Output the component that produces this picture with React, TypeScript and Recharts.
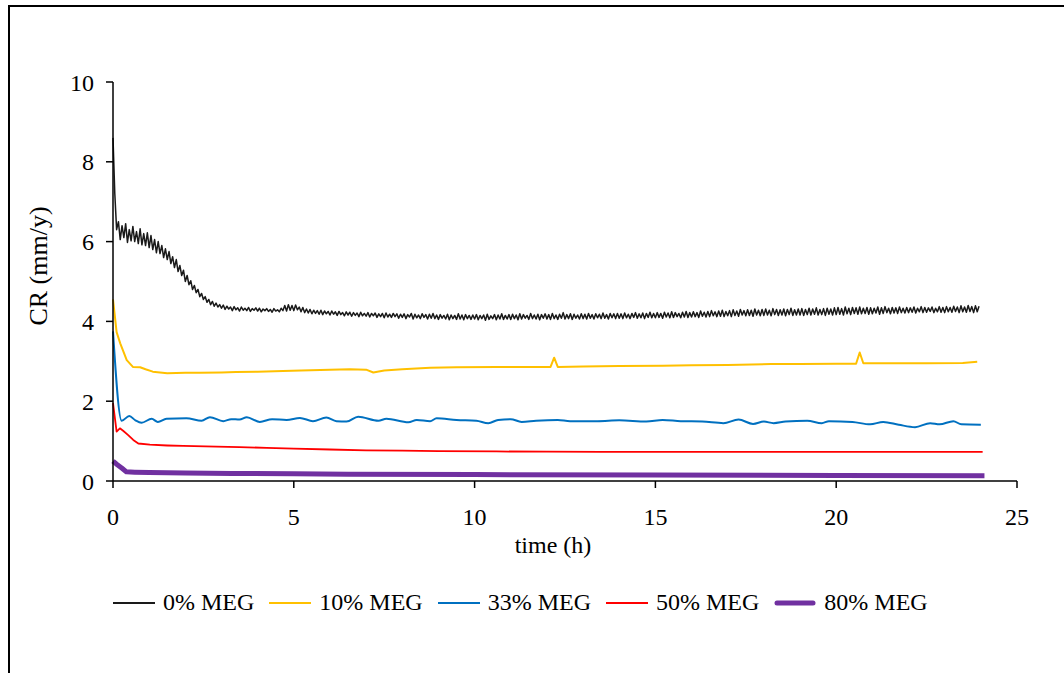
import { LineChart, Line, XAxis, YAxis, Legend, Label } from 'recharts';

const FONT = '"Liberation Serif", "Times New Roman", serif';

const xTicks = [0, 5, 10, 15, 20, 25];
const yTicks = [0, 2, 4, 6, 8, 10];

// 0% MEG, logged every 0.05 h from t = 0 (one row per hour)
const meg0Step = 0.05;
const meg0Cr = [
  8.6, 7.2, 6.3, 6.5, 6.05, 6.4, 6.1, 6.45, 5.98, 6.3, 6.02, 6.38, 6.0, 6.25, 5.95, 6.32, 5.92, 6.2, 5.9, 6.22,
  5.85, 6.15, 5.8, 6.05, 5.72, 6.0, 5.7, 5.9, 5.6, 5.82, 5.55, 5.75, 5.45, 5.62, 5.35, 5.55, 5.25, 5.4, 5.15, 5.28,
  5.0, 5.15, 4.92, 5.02, 4.8, 4.9, 4.72, 4.8, 4.62, 4.7, 4.55, 4.62, 4.48, 4.55, 4.42, 4.5, 4.38, 4.46, 4.36, 4.42,
  4.33, 4.41, 4.3, 4.38, 4.31, 4.36, 4.27, 4.37, 4.29, 4.34, 4.26, 4.36, 4.28, 4.33, 4.27, 4.35, 4.25, 4.32, 4.28, 4.34,
  4.26, 4.33, 4.24, 4.31, 4.27, 4.32, 4.25, 4.3, 4.23, 4.32, 4.26, 4.29, 4.24, 4.33, 4.27, 4.4, 4.26, 4.42, 4.28, 4.4,
  4.27, 4.41, 4.29, 4.36, 4.24, 4.35, 4.22, 4.31, 4.21, 4.3, 4.19, 4.28, 4.2, 4.27, 4.18, 4.28, 4.17, 4.26, 4.19, 4.25,
  4.16, 4.26, 4.18, 4.24, 4.15, 4.25, 4.17, 4.22, 4.14, 4.24, 4.16, 4.23, 4.13, 4.22, 4.15, 4.21, 4.12, 4.23, 4.14, 4.2,
  4.13, 4.22, 4.11, 4.2, 4.14, 4.21, 4.1, 4.19, 4.12, 4.2, 4.09, 4.21, 4.11, 4.18, 4.1, 4.2, 4.12, 4.19, 4.08, 4.18,
  4.1, 4.19, 4.07, 4.17, 4.11, 4.2, 4.06, 4.18, 4.09, 4.16, 4.07, 4.19, 4.1, 4.17, 4.06, 4.18, 4.08, 4.2, 4.07, 4.16,
  4.05, 4.17, 4.08, 4.15, 4.06, 4.18, 4.04, 4.16, 4.07, 4.15, 4.05, 4.19, 4.06, 4.16, 4.04, 4.17, 4.07, 4.15, 4.05, 4.16,
  4.06, 4.17, 4.04, 4.15, 4.07, 4.16, 4.03, 4.18, 4.05, 4.14, 4.07, 4.17, 4.04, 4.16, 4.06, 4.19, 4.05, 4.15, 4.06, 4.17,
  4.05, 4.18, 4.07, 4.16, 4.04, 4.19, 4.06, 4.17, 4.08, 4.15, 4.05, 4.2, 4.07, 4.16, 4.06, 4.18, 4.04, 4.17, 4.08, 4.19,
  4.06, 4.17, 4.05, 4.2, 4.07, 4.16, 4.05, 4.18, 4.08, 4.22, 4.06, 4.17, 4.07, 4.19, 4.05, 4.18, 4.08, 4.16, 4.06, 4.19,
  4.07, 4.18, 4.06, 4.2, 4.08, 4.17, 4.06, 4.19, 4.09, 4.18, 4.07, 4.21, 4.08, 4.17, 4.06, 4.2, 4.09, 4.19, 4.07, 4.2,
  4.08, 4.19, 4.07, 4.21, 4.09, 4.18, 4.07, 4.2, 4.1, 4.22, 4.08, 4.19, 4.09, 4.21, 4.07, 4.2, 4.1, 4.23, 4.09, 4.2,
  4.09, 4.22, 4.1, 4.2, 4.08, 4.23, 4.11, 4.21, 4.09, 4.24, 4.1, 4.22, 4.12, 4.2, 4.09, 4.23, 4.11, 4.25, 4.1, 4.22,
  4.11, 4.24, 4.12, 4.22, 4.1, 4.26, 4.13, 4.23, 4.11, 4.25, 4.12, 4.27, 4.14, 4.24, 4.12, 4.26, 4.13, 4.28, 4.12, 4.25,
  4.14, 4.27, 4.12, 4.29, 4.15, 4.26, 4.13, 4.3, 4.16, 4.27, 4.14, 4.29, 4.15, 4.28, 4.13, 4.31, 4.16, 4.28, 4.14, 4.3,
  4.15, 4.31, 4.16, 4.28, 4.14, 4.32, 4.17, 4.3, 4.15, 4.29, 4.16, 4.31, 4.14, 4.3, 4.17, 4.33, 4.15, 4.29, 4.16, 4.31,
  4.16, 4.32, 4.15, 4.3, 4.17, 4.33, 4.16, 4.31, 4.18, 4.34, 4.16, 4.3, 4.17, 4.32, 4.15, 4.33, 4.18, 4.31, 4.16, 4.34,
  4.17, 4.35, 4.18, 4.32, 4.16, 4.36, 4.19, 4.33, 4.17, 4.35, 4.2, 4.34, 4.18, 4.36, 4.19, 4.33, 4.2, 4.35, 4.18, 4.34,
  4.19, 4.33, 4.21, 4.36, 4.18, 4.34, 4.2, 4.37, 4.22, 4.33, 4.19, 4.35, 4.21, 4.34, 4.2, 4.36, 4.22, 4.33, 4.21, 4.35,
  4.22, 4.34, 4.23, 4.36, 4.21, 4.33, 4.24, 4.37, 4.22, 4.35, 4.23, 4.34, 4.25, 4.36, 4.22, 4.33, 4.24, 4.37, 4.23, 4.35,
  4.22, 4.37, 4.24, 4.35, 4.23, 4.38, 4.25, 4.36, 4.22, 4.39, 4.24, 4.36, 4.23, 4.4, 4.25, 4.37, 4.22, 4.39, 4.24, 4.38,
];

const meg10Time = [
  0, 0.1, 0.2, 0.38, 0.55, 0.75, 0.9, 1.1, 1.5, 2.0, 2.4, 3.0, 3.4, 4.0, 4.7, 5.2, 6.0, 6.55,
  7.0, 7.2, 7.5, 8.0, 8.77, 9.5, 10.6, 11.5, 12.1, 12.2, 12.3, 13.0, 14.0, 15.2, 16.0, 17.0,
  18.2, 19.0, 20.0, 20.55, 20.65, 20.75, 21.5, 22.5, 23.5, 23.9,
];
const meg10Cr = [
  4.55, 3.73, 3.45, 3.03, 2.86, 2.85, 2.8, 2.74, 2.7, 2.71, 2.71, 2.72, 2.73, 2.74, 2.76, 2.77, 2.79, 2.8,
  2.79, 2.72, 2.77, 2.8, 2.84, 2.85, 2.86, 2.86, 2.86, 3.09, 2.86, 2.87, 2.88, 2.89, 2.9, 2.91,
  2.93, 2.93, 2.94, 2.94, 3.22, 2.95, 2.95, 2.95, 2.96, 2.99,
];

const meg33Time = [
  0, 0.24, 0.45, 0.62, 0.79, 1.07, 1.24, 1.48, 2.03, 2.45, 2.68, 3.05, 3.27, 3.5, 3.7, 4.06,
  4.4, 4.8, 5.17, 5.53, 5.9, 6.18, 6.46, 6.78, 7.34, 7.56, 8.17, 8.4, 8.77, 8.95, 9.5, 10.05,
  10.38, 10.65, 11.0, 11.3, 11.7, 12.3, 12.64, 13.4, 14.0, 14.75, 15.2, 15.7, 16.3, 16.88,
  17.3, 17.7, 18.0, 18.27, 18.6, 19.2, 19.6, 19.8, 20.45, 20.94, 21.3, 21.73, 22.18, 22.6,
  22.86, 23.24, 23.46, 24.0,
];
const meg33Cr = [
  3.75, 1.51, 1.63, 1.52, 1.46, 1.56, 1.48, 1.56, 1.57, 1.51, 1.6, 1.5, 1.55, 1.54, 1.6, 1.48,
  1.55, 1.53, 1.58, 1.5, 1.59, 1.5, 1.49, 1.61, 1.51, 1.56, 1.47, 1.53, 1.5, 1.57, 1.53, 1.51,
  1.45, 1.53, 1.55, 1.48, 1.51, 1.53, 1.5, 1.5, 1.52, 1.49, 1.53, 1.5, 1.49, 1.45,
  1.54, 1.43, 1.49, 1.45, 1.49, 1.51, 1.45, 1.5, 1.48, 1.42, 1.48, 1.41, 1.35, 1.45,
  1.42, 1.5, 1.42, 1.41,
];

const meg50Time = [
  0, 0.1, 0.19, 0.28, 0.42, 0.56, 0.7, 1.02, 1.5, 1.94, 2.86, 3.5, 4.25, 5.0, 6.0, 7.0, 8.0,
  9.0, 10.6, 12.0, 13.5, 15.7, 18.0, 20.0, 22.0, 24.05,
];
const meg50Cr = [
  1.95, 1.24, 1.32, 1.26, 1.15, 1.03, 0.94, 0.91, 0.89, 0.88, 0.86, 0.85, 0.83, 0.81, 0.79, 0.77, 0.76,
  0.75, 0.74, 0.735, 0.73, 0.73, 0.73, 0.73, 0.73, 0.73,
];

const meg80Time = [0, 0.1, 0.25, 0.37, 0.6, 1.0, 2.0, 3.3, 5.0, 6.5, 10, 15, 20, 24.1];
const meg80Cr = [0.5, 0.42, 0.32, 0.23, 0.22, 0.21, 0.2, 0.19, 0.18, 0.17, 0.16, 0.15, 0.14, 0.13];

const toRows = (ts: number[], vs: number[]) => ts.map((t, i) => ({ t, v: vs[i] }));

const series = [
  { name: '0% MEG', color: '#1a1a1a', width: 1.5, curve: 'linear', data: meg0Cr.map((v, i) => ({ t: Math.round(i * meg0Step * 100) / 100, v })) },
  { name: '10% MEG', color: '#FFC000', width: 2, curve: 'linear', data: toRows(meg10Time, meg10Cr) },
  { name: '33% MEG', color: '#0070C0', width: 2, curve: 'monotone', data: toRows(meg33Time, meg33Cr) },
  { name: '50% MEG', color: '#FF0000', width: 1.8, curve: 'linear', data: toRows(meg50Time, meg50Cr) },
  { name: '80% MEG', color: '#7030A0', width: 5, curve: 'linear', data: toRows(meg80Time, meg80Cr) },
];

function LegendRow() {
  return (
    <div style={{ display: 'flex', alignItems: 'center', fontFamily: FONT, fontSize: 24, color: '#000', whiteSpace: 'nowrap' }}>
      {series.map((s) => (
        <div key={s.name} style={{ display: 'flex', alignItems: 'center', marginRight: 15 }}>
          <svg width={42} height={10}>
            <line x1={s.width > 3 ? 3 : 0} y1={5} x2={s.width > 3 ? 39 : 42} y2={5} stroke={s.color} strokeWidth={s.width > 3 ? 5 : 2} strokeLinecap={s.width > 3 ? 'round' : 'butt'} />
          </svg>
          <span style={{ marginLeft: 8 }}>{s.name}</span>
        </div>
      ))}
    </div>
  );
}

export default function App() {
  const tick = { fontSize: 24, fill: '#000', fontFamily: FONT };
  return (
    <div style={{ position: 'absolute', left: 0, top: 0, width: 1064, height: 673, overflow: 'hidden', background: '#fff' }}>
      <div style={{ position: 'absolute', left: 8, top: 5, width: 1100, height: 700, borderLeft: '2px solid #000', borderTop: '2px solid #000' }} />
      <LineChart width={1064} height={673} margin={{ top: 82, right: 47, bottom: 162, left: 53 }}>
        <XAxis
          type="number"
          dataKey="t"
          domain={[0, 25]}
          ticks={xTicks}
          interval={0}
          height={30}
          tick={tick}
          tickSize={7}
          tickMargin={20}
          axisLine={{ stroke: '#000', strokeWidth: 1.5 }}
          tickLine={{ stroke: '#000', strokeWidth: 1.5 }}
        >
          <Label
            content={() => (
              <text x={553} y={545} textAnchor="middle" dominantBaseline="central" fontFamily={FONT} fontSize={24} fill="#000">
                time (h)
              </text>
            )}
          />
        </XAxis>
        <YAxis
          type="number"
          domain={[0, 10]}
          ticks={yTicks}
          interval={0}
          width={60}
          tick={tick}
          tickSize={7}
          tickMargin={12}
          axisLine={{ stroke: '#000', strokeWidth: 1.5 }}
          tickLine={{ stroke: '#000', strokeWidth: 1.5 }}
        >
          <Label
            content={() => (
              <text x={38} y={266} transform="rotate(-90 38 266)" textAnchor="middle" dominantBaseline="central" fontFamily={FONT} fontSize={26} fill="#000">
                CR (mm/y)
              </text>
            )}
          />
        </YAxis>
        {series.map((s) => (
          <Line
            key={s.name}
            data={s.data}
            dataKey="v"
            name={s.name}
            type={s.curve as any}
            stroke={s.color}
            strokeWidth={s.width}
            strokeLinejoin="round"
            dot={false}
            activeDot={false}
            isAnimationActive={false}
          />
        ))}
        <Legend
          layout="horizontal"
          verticalAlign="middle"
          align="center"
          content={() => <LegendRow />}
          wrapperStyle={{ left: 113, top: 589, width: 'auto', height: 'auto' }}
        />
      </LineChart>
    </div>
  );
}
